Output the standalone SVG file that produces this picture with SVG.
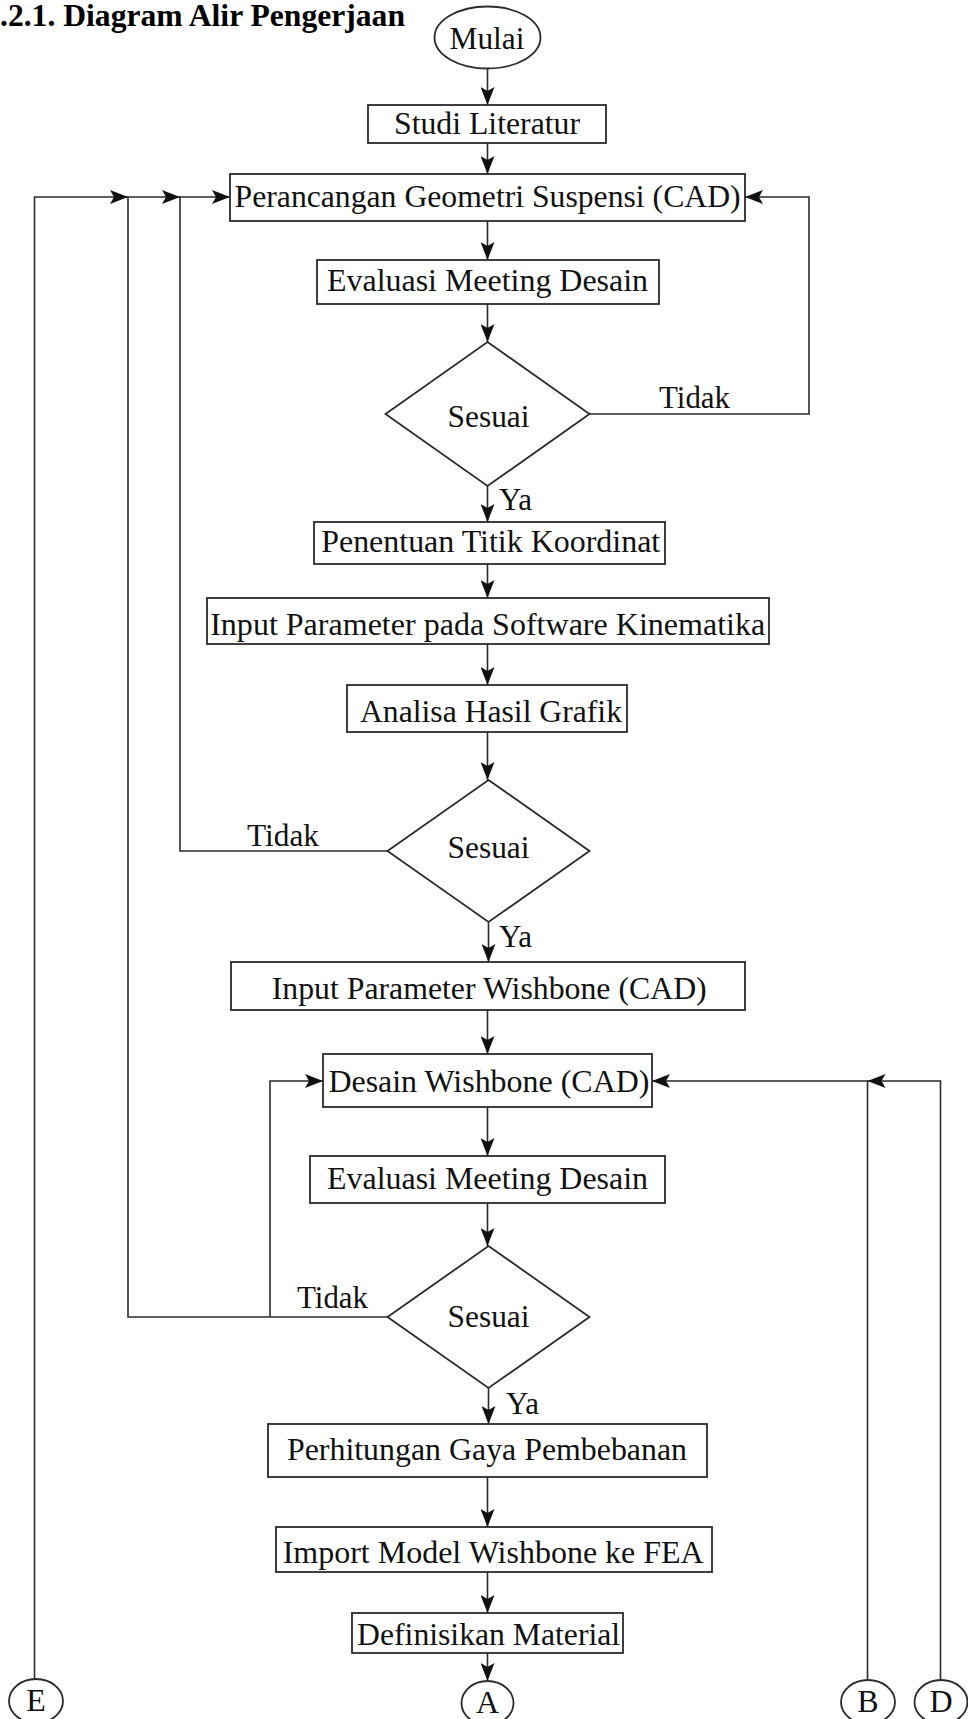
<svg xmlns="http://www.w3.org/2000/svg" width="968" height="1719" viewBox="0 0 968 1719">
<style>
.n{fill:#fff;stroke:#2b2b2b;stroke-width:1.8}
.t{font-family:"Liberation Serif","Times New Roman",serif;font-size:32px;fill:#111;text-anchor:middle}
.l{font-family:"Liberation Serif","Times New Roman",serif;font-size:31px;fill:#111}
.c{fill:none;stroke:#2b2b2b;stroke-width:1.6}
.h{font-family:"Liberation Serif","Times New Roman",serif;font-size:31.5px;font-weight:bold;fill:#000}
</style>
<defs>
<marker id="a" markerUnits="userSpaceOnUse" markerWidth="20" markerHeight="14" refX="18" refY="7" orient="auto">
<path d="M0,0 L18,7 L0,14 L4,7 z" fill="#111"/>
</marker>
</defs>
<text class="h" x="0" y="26" textLength="405" lengthAdjust="spacingAndGlyphs">.2.1. Diagram Alir Pengerjaan</text>
<g id="connectors">
<path class="c" d="M487.5,68.5 V105" marker-end="url(#a)"/>
<path class="c" d="M487.5,143 V174" marker-end="url(#a)"/>
<path class="c" d="M487.5,221 V260" marker-end="url(#a)"/>
<path class="c" d="M487.5,304 V342" marker-end="url(#a)"/>
<path class="c" d="M487.5,486 V522" marker-end="url(#a)"/>
<path class="c" d="M487.5,564 V598" marker-end="url(#a)"/>
<path class="c" d="M487.5,644 V685" marker-end="url(#a)"/>
<path class="c" d="M487.5,732 V780" marker-end="url(#a)"/>
<path class="c" d="M488.5,922 V962" marker-end="url(#a)"/>
<path class="c" d="M487.5,1010 V1054" marker-end="url(#a)"/>
<path class="c" d="M487.5,1107 V1156" marker-end="url(#a)"/>
<path class="c" d="M487.5,1203 V1246" marker-end="url(#a)"/>
<path class="c" d="M488.5,1388 V1424" marker-end="url(#a)"/>
<path class="c" d="M487.5,1477 V1527" marker-end="url(#a)"/>
<path class="c" d="M487.5,1572 V1613" marker-end="url(#a)"/>
<path class="c" d="M487.5,1653 V1681" marker-end="url(#a)"/>
<path class="c" d="M589.5,414 H809 V197 H745" marker-end="url(#a)"/>
<path class="c" d="M387.5,851 H180 V197 H230" marker-end="url(#a)"/>
<path class="c" d="M387.5,1317 H128 V197 H180" marker-end="url(#a)"/>
<path class="c" d="M270,1317 V1081 H323" marker-end="url(#a)"/>
<path class="c" d="M34.5,1679 V197 H128" marker-end="url(#a)"/>
<path class="c" d="M867.5,1680 V1081 H652" marker-end="url(#a)"/>
<path class="c" d="M940.5,1680 V1081 H867.5" marker-end="url(#a)"/>
<text class="l" x="499" y="510">Ya</text>
<text class="l" x="659" y="408" textLength="71" lengthAdjust="spacingAndGlyphs">Tidak</text>
<text class="l" x="247" y="846" textLength="72" lengthAdjust="spacingAndGlyphs">Tidak</text>
<text class="l" x="499" y="947">Ya</text>
<text class="l" x="297" y="1308" textLength="71" lengthAdjust="spacingAndGlyphs">Tidak</text>
<text class="l" x="506" y="1414">Ya</text>
</g>
<g id="mulai"><ellipse class="n" cx="487.5" cy="37.5" rx="53" ry="31"/><text class="t" x="487" y="49" textLength="75" lengthAdjust="spacingAndGlyphs">Mulai</text></g>
<g id="studi"><rect class="n" x="368" y="105" width="238" height="38"/><text class="t" x="487" y="133.5" textLength="186" lengthAdjust="spacingAndGlyphs">Studi Literatur</text></g>
<g id="perancangan"><rect class="n" x="230" y="174" width="515" height="47"/><text class="t" x="487.6" y="207" textLength="506" lengthAdjust="spacingAndGlyphs">Perancangan Geometri Suspensi (CAD)</text></g>
<g id="evaluasi1"><rect class="n" x="317" y="260" width="342" height="44"/><text class="t" x="487.5" y="291" textLength="321" lengthAdjust="spacingAndGlyphs">Evaluasi Meeting Desain</text></g>
<g id="sesuai1"><polygon class="n" points="487.5,342 589.5,414 487.5,486 385.5,414"/><text class="t" x="488.5" y="426.5" textLength="82" lengthAdjust="spacingAndGlyphs">Sesuai</text></g>
<g id="penentuan"><rect class="n" x="314" y="522" width="351" height="42"/><text class="t" x="490.7" y="552" textLength="339" lengthAdjust="spacingAndGlyphs">Penentuan Titik Koordinat</text></g>
<g id="inputkinematika"><rect class="n" x="207" y="598" width="562" height="46"/><text class="t" x="487.7" y="635" textLength="555" lengthAdjust="spacingAndGlyphs">Input Parameter pada Software Kinematika</text></g>
<g id="analisa"><rect class="n" x="347" y="685" width="280" height="47"/><text class="t" x="491" y="721.5" textLength="262" lengthAdjust="spacingAndGlyphs">Analisa Hasil Grafik</text></g>
<g id="sesuai2"><polygon class="n" points="488.5,780 589.5,851 488.5,922 387.5,851"/><text class="t" x="488.5" y="858" textLength="82" lengthAdjust="spacingAndGlyphs">Sesuai</text></g>
<g id="inputwishbone"><rect class="n" x="231" y="962" width="514" height="48"/><text class="t" x="489.2" y="999" textLength="435" lengthAdjust="spacingAndGlyphs">Input Parameter Wishbone (CAD)</text></g>
<g id="desain"><rect class="n" x="323" y="1054" width="329" height="53"/><text class="t" x="488.9" y="1091.5" textLength="321" lengthAdjust="spacingAndGlyphs">Desain Wishbone (CAD)</text></g>
<g id="evaluasi2"><rect class="n" x="310" y="1156" width="355" height="47"/><text class="t" x="487.5" y="1188.5" textLength="321" lengthAdjust="spacingAndGlyphs">Evaluasi Meeting Desain</text></g>
<g id="sesuai3"><polygon class="n" points="488.5,1246 589.5,1317 488.5,1388 387.5,1317"/><text class="t" x="488.5" y="1326.5" textLength="82" lengthAdjust="spacingAndGlyphs">Sesuai</text></g>
<g id="perhitungan"><rect class="n" x="268" y="1424" width="439" height="53"/><text class="t" x="487" y="1459.5" textLength="400" lengthAdjust="spacingAndGlyphs">Perhitungan Gaya Pembebanan</text></g>
<g id="import"><rect class="n" x="276" y="1527" width="436" height="45"/><text class="t" x="493.2" y="1562.5" textLength="421" lengthAdjust="spacingAndGlyphs">Import Model Wishbone ke FEA</text></g>
<g id="definisikan"><rect class="n" x="352" y="1613" width="271" height="40"/><text class="t" x="488.6" y="1645" textLength="263" lengthAdjust="spacingAndGlyphs">Definisikan Material</text></g>
<g id="E"><ellipse class="n" cx="36" cy="1701" rx="27" ry="22"/><text class="t" x="36" y="1711">E</text></g>
<g id="A"><ellipse class="n" cx="487.5" cy="1703" rx="26" ry="22"/><text class="t" x="487.5" y="1713">A</text></g>
<g id="B"><ellipse class="n" cx="868" cy="1702" rx="27" ry="22"/><text class="t" x="868" y="1712">B</text></g>
<g id="D"><ellipse class="n" cx="941" cy="1702" rx="26.5" ry="22"/><text class="t" x="941" y="1712">D</text></g>
</svg>
